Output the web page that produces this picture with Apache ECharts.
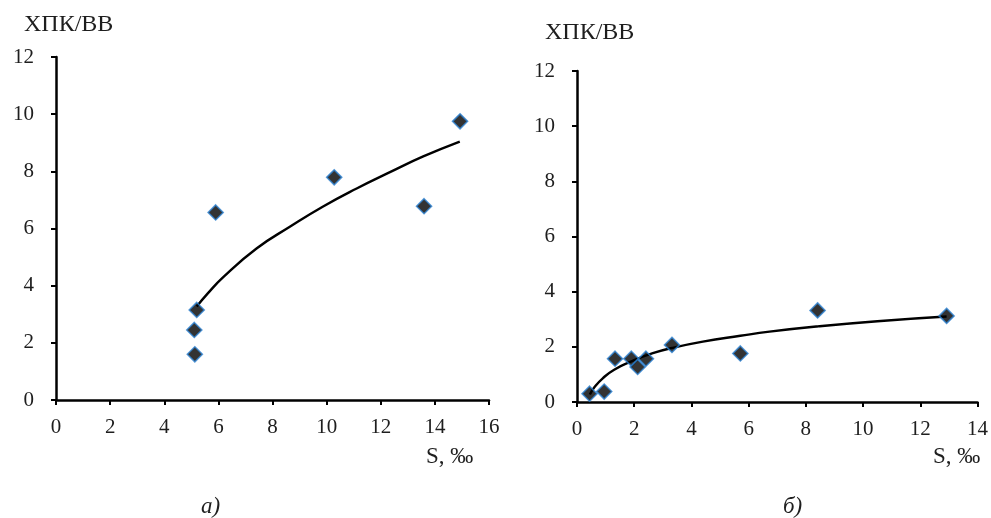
<!DOCTYPE html>
<html>
<head>
<meta charset="utf-8">
<script src="https://cdn.jsdelivr.net/npm/echarts@6/dist/echarts.min.js"></script>
<style>
html,body{margin:0;padding:0;background:#fff;}
#chart{width:991px;height:518px;}
</style>
</head>
<body>
<div id="chart"></div>
<script>
// Panel а)
var sA = [5.13, 5.11, 5.2, 5.9, 10.28, 13.6, 14.93];
var codA = [1.6, 2.45, 3.15, 6.56, 7.79, 6.78, 9.75];
var trendSA = [5.2, 5.6, 6.18, 7.41, 8.64, 9.87, 11.11, 12.34, 13.57, 14.92];
var trendCodA = [3.27, 3.72, 4.3, 5.3, 6.06, 6.77, 7.4, 7.97, 8.52, 9.04];
// Panel б)
var sB = [0.44, 0.95, 1.33, 1.9, 2.12, 2.41, 3.32, 5.71, 8.41, 12.92];
var codB = [0.3, 0.38, 1.57, 1.57, 1.27, 1.57, 2.07, 1.76, 3.32, 3.12];
var trendSB = [0.45, 0.62, 0.9, 1.3, 1.96, 2.65, 3.32, 4.4, 5.71, 6.73, 8.41, 10.5, 12.92];
var trendCodB = [0.27, 0.55, 0.86, 1.17, 1.5, 1.77, 1.96, 2.19, 2.4, 2.55, 2.74, 2.93, 3.1];

var yTitle = 'ХПК/ВВ';
var xTitle = 'S, ‰';
var captions = ['а)', 'б)'];

function zip(a, b) { return a.map(function (v, i) { return [v, b[i]]; }); }

var FONT = '"Liberation Serif", "Times New Roman", serif';
var TXT = '#1e1e1e';

function xAxis(idx, max) {
  return {
    gridIndex: idx, type: 'value', min: 0, max: max, interval: 2,
    splitLine: { show: false },
    axisLine: { onZero: false, lineStyle: { color: '#000', width: 2.5 } },
    axisTick: { show: true, length: 5, lineStyle: { color: '#000', width: 2 } },
    axisLabel: { color: TXT, fontFamily: FONT, fontSize: 21, margin: 17, showMaxLabel: true }
  };
}
function yAxis(idx) {
  return {
    gridIndex: idx, type: 'value', min: 0, max: 12, interval: 2,
    splitLine: { show: false },
    axisLine: { show: true, onZero: false, lineStyle: { color: '#000', width: 2.5 } },
    axisTick: { show: true, length: 5, lineStyle: { color: '#000', width: 2 } },
    axisLabel: { color: TXT, fontFamily: FONT, fontSize: 21, margin: 22 }
  };
}
var markerStyle = { color: '#000', borderColor: '#2a7fd0', borderWidth: 1.6 };

var chart = echarts.init(document.getElementById('chart'), null, { renderer: 'canvas' });
chart.setOption({
  backgroundColor: '#fff',
  animation: false,
  grid: [
    { left: 56, top: 57, width: 433, height: 343 },
    { left: 577, top: 71, width: 401, height: 331 }
  ],
  xAxis: [xAxis(0, 16), xAxis(1, 14)],
  yAxis: [yAxis(0), yAxis(1)],
  series: [
    { type: 'line', xAxisIndex: 0, yAxisIndex: 0, data: zip(trendSA, trendCodA), smooth: true,
      showSymbol: false, lineStyle: { color: '#000', width: 2.4 }, z: 3 },
    { type: 'scatter', xAxisIndex: 0, yAxisIndex: 0, data: zip(sA, codA), symbol: 'diamond',
      symbolSize: 15, itemStyle: markerStyle, z: 4 },
    { type: 'line', xAxisIndex: 1, yAxisIndex: 1, data: zip(trendSB, trendCodB), smooth: true,
      showSymbol: false, lineStyle: { color: '#000', width: 2.4 }, z: 3 },
    { type: 'scatter', xAxisIndex: 1, yAxisIndex: 1, data: zip(sB, codB), symbol: 'diamond',
      symbolSize: 15, itemStyle: markerStyle, z: 4 }
  ],
  graphic: [
    { type: 'text', left: 24, top: 13, style: { text: yTitle, font: '24px ' + FONT, fill: TXT } },
    { type: 'text', left: 545, top: 21, style: { text: yTitle, font: '24px ' + FONT, fill: TXT } },
    { type: 'text', left: 426, top: 445, style: { text: xTitle, font: '23px ' + FONT, fill: TXT } },
    { type: 'text', left: 933, top: 445, style: { text: xTitle, font: '23px ' + FONT, fill: TXT } },
    { type: 'text', left: 201, top: 495, style: { text: captions[0], font: 'italic 23px ' + FONT, fill: TXT } },
    { type: 'text', left: 783, top: 495, style: { text: captions[1], font: 'italic 23px ' + FONT, fill: TXT } }
  ]
});
</script>
</body>
</html>
